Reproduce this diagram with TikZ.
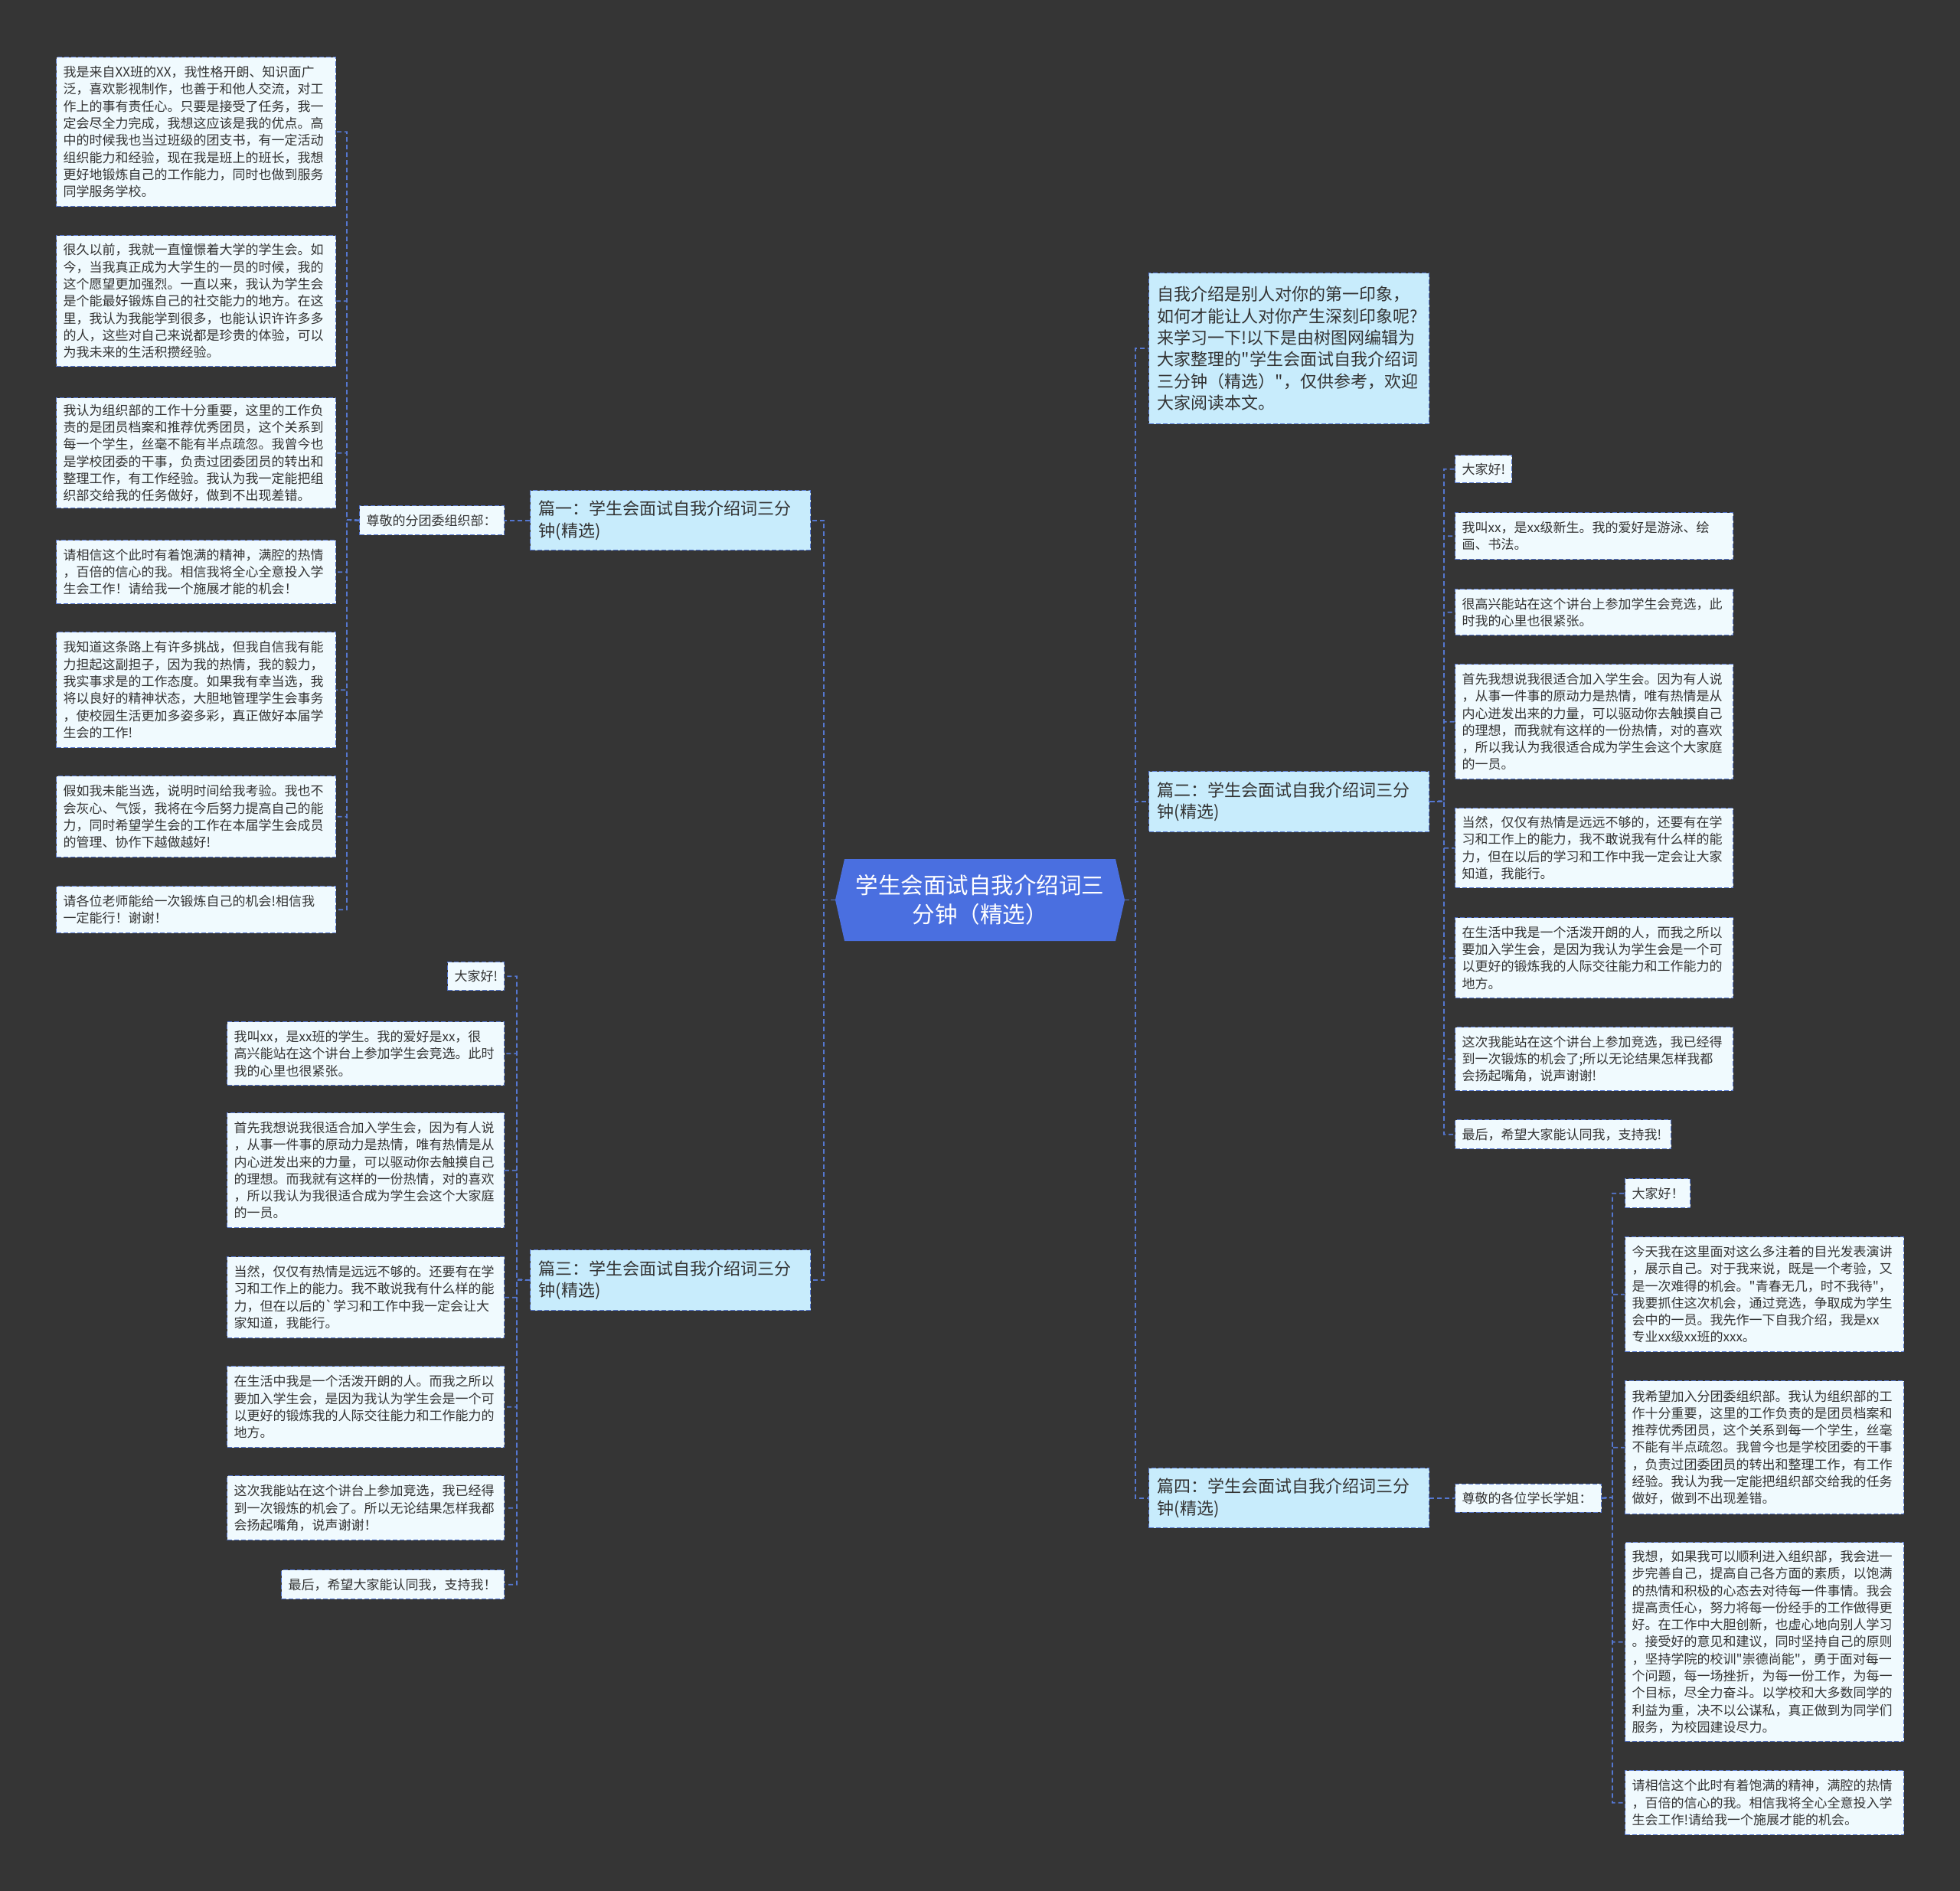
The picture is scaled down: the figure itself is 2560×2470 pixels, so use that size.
\documentclass[tikz,border=0pt]{standalone}
\usepackage{fontspec}
\newfontfamily\cjk[Ligatures=TeXOff]{Noto Sans CJK SC}
\definecolor{bgc}{HTML}{353535}
\definecolor{leaffill}{HTML}{F0FAFE}
\definecolor{midfill}{HTML}{C8ECFC}
\definecolor{linec}{HTML}{5577D0}
\definecolor{cfill}{HTML}{4A6FE0}
\definecolor{txt}{HTML}{333333}
\tikzset{
  conn/.style={draw=linec, line width=1.6pt, dash pattern=on 6pt off 4pt},
  leaf/.style={anchor=north west, draw=linec, line width=1.4pt, dash pattern=on 6pt off 3pt,
    fill=leaffill, text=txt, inner xsep=9pt, inner ysep=3pt, align=left,
    font=\cjk\fontsize{17}{22.3}\selectfont},
  mid/.style={leaf, fill=midfill, inner xsep=11pt, font=\cjk\fontsize{22}{28.3}\selectfont},
}
\begin{document}
\begin{tikzpicture}[x=1pt, y=-1pt]
\useasboundingbox (0,0) rectangle (2560,2470);
\fill[bgc] (0,0) rectangle (2560,2470);

% center
\fill[cfill] (1103,1122) -- (1457,1122) -- (1469,1175.5) -- (1457,1229) -- (1103,1229) -- (1091,1175.5) -- cycle;
\node[minimum width=378pt, minimum height=107pt, inner sep=0pt, align=center, text=white,
  font=\cjk\fontsize{29.5}{38}\selectfont] (c) at (1280,1175.5) {学生会面试自我介绍词三\\分钟（精选）};

% level 1
\node[mid, text width=344pt, minimum height=197pt] (intro) at (1500,356) {自我介绍是别人对你的第一印象，\\如何才能让人对你产生深刻印象呢?\\来学习一下!以下是由树图网编辑为\\大家整理的"学生会面试自我介绍词\\三分钟（精选）"，仅供参考，欢迎\\大家阅读本文。};
\node[mid, text width=344pt, minimum height=78pt] (p1) at (692,640) {篇一：学生会面试自我介绍词三分\\钟(精选)};
\node[mid, text width=344pt, minimum height=79pt] (p2) at (1500,1007) {篇二：学生会面试自我介绍词三分\\钟(精选)};
\node[mid, text width=344pt, minimum height=79pt] (p3) at (692,1632) {篇三：学生会面试自我介绍词三分\\钟(精选)};
\node[mid, text width=344pt, minimum height=78pt] (p4) at (1500,1917) {篇四：学生会面试自我介绍词三分\\钟(精选)};

% labels
\node[leaf, text width=171pt, minimum height=38pt] (lab1) at (469,660) {尊敬的分团委组织部：};
\node[leaf, text width=173pt, minimum height=37pt] (lab4) at (1900,1937.5) {尊敬的各位学长学姐：};

% part 1 leaves
\node[leaf, text width=347pt, minimum height=195pt] (l1) at (73,74) {我是来自XX班的XX，我性格开朗、知识面广\\泛，喜欢影视制作，也善于和他人交流，对工\\作上的事有责任心。只要是接受了任务，我一\\定会尽全力完成，我想这应该是我的优点。高\\中的时候我也当过班级的团支书，有一定活动\\组织能力和经验，现在我是班上的班长，我想\\更好地锻炼自己的工作能力，同时也做到服务\\同学服务学校。};
\node[leaf, text width=347pt, minimum height=171pt] (l2) at (73,307) {很久以前，我就一直憧憬着大学的学生会。如\\今，当我真正成为大学生的一员的时候，我的\\这个愿望更加强烈。一直以来，我认为学生会\\是个能最好锻炼自己的社交能力的地方。在这\\里，我认为我能学到很多，也能认识许许多多\\的人，这些对自己来说都是珍贵的体验，可以\\为我未来的生活积攒经验。};
\node[leaf, text width=347pt, minimum height=144pt] (l3) at (73,519) {我认为组织部的工作十分重要，这里的工作负\\责的是团员档案和推荐优秀团员，这个关系到\\每一个学生，丝毫不能有半点疏忽。我曾今也\\是学校团委的干事，负责过团委团员的转出和\\整理工作，有工作经验。我认为我一定能把组\\织部交给我的任务做好，做到不出现差错。};
\node[leaf, text width=347pt, minimum height=83pt] (l4) at (73,705) {请相信这个此时有着饱满的精神，满腔的热情\\，百倍的信心的我。相信我将全心全意投入学\\生会工作！请给我一个施展才能的机会！};
\node[leaf, text width=347pt, minimum height=151pt] (l5) at (73,825) {我知道这条路上有许多挑战，但我自信我有能\\力担起这副担子，因为我的热情，我的毅力，\\我实事求是的工作态度。如果我有幸当选，我\\将以良好的精神状态，大胆地管理学生会事务\\，使校园生活更加多姿多彩，真正做好本届学\\生会的工作!};
\node[leaf, text width=347pt, minimum height=106pt] (l6) at (73,1013) {假如我未能当选，说明时间给我考验。我也不\\会灰心、气馁，我将在今后努力提高自己的能\\力，同时希望学生会的工作在本届学生会成员\\的管理、协作下越做越好!};
\node[leaf, text width=347pt, minimum height=61pt] (l7) at (73,1157) {请各位老师能给一次锻炼自己的机会!相信我\\一定能行！谢谢！};

% part 3 leaves
\node[leaf, text width=56pt, minimum height=37pt] (t1) at (584,1256) {大家好!};
\node[leaf, text width=344pt, minimum height=83pt] (t2) at (296,1334) {我叫xx，是xx班的学生。我的爱好是xx，很\\高兴能站在这个讲台上参加学生会竞选。此时\\我的心里也很紧张。};
\node[leaf, text width=344pt, minimum height=150pt] (t3) at (296,1453) {首先我想说我很适合加入学生会，因为有人说\\，从事一件事的原动力是热情，唯有热情是从\\内心迸发出来的力量，可以驱动你去触摸自己\\的理想。而我就有这样的一份热情，对的喜欢\\，所以我认为我很适合成为学生会这个大家庭\\的一员。};
\node[leaf, text width=344pt, minimum height=106pt] (t4) at (296,1641) {当然，仅仅有热情是远远不够的。还要有在学\\习和工作上的能力。我不敢说我有什么样的能\\力，但在以后的`学习和工作中我一定会让大\\家知道，我能行。};
\node[leaf, text width=344pt, minimum height=106pt] (t5) at (296,1784) {在生活中我是一个活泼开朗的人。而我之所以\\要加入学生会，是因为我认为学生会是一个可\\以更好的锻炼我的人际交往能力和工作能力的\\地方。};
\node[leaf, text width=344pt, minimum height=84pt] (t6) at (296,1927) {这次我能站在这个讲台上参加竞选，我已经得\\到一次锻炼的机会了。所以无论结果怎样我都\\会扬起嘴角，说声谢谢！};
\node[leaf, text width=273pt, minimum height=38pt] (t7) at (367,2050) {最后，希望大家能认同我，支持我！};

% part 2 leaves
\node[leaf, text width=56pt, minimum height=36pt] (r1) at (1900,594) {大家好!};
\node[leaf, text width=345pt, minimum height=61pt] (r2) at (1900,669) {我叫xx，是xx级新生。我的爱好是游泳、绘\\画、书法。};
\node[leaf, text width=345pt, minimum height=60pt] (r3) at (1900,769) {很高兴能站在这个讲台上参加学生会竞选，此\\时我的心里也很紧张。};
\node[leaf, text width=345pt, minimum height=150pt] (r4) at (1900,867) {首先我想说我很适合加入学生会。因为有人说\\，从事一件事的原动力是热情，唯有热情是从\\内心迸发出来的力量，可以驱动你去触摸自己\\的理想，而我就有这样的一份热情，对的喜欢\\，所以我认为我很适合成为学生会这个大家庭\\的一员。};
\node[leaf, text width=345pt, minimum height=104pt] (r5) at (1900,1055) {当然，仅仅有热情是远远不够的，还要有在学\\习和工作上的能力，我不敢说我有什么样的能\\力，但在以后的学习和工作中我一定会让大家\\知道，我能行。};
\node[leaf, text width=345pt, minimum height=105pt] (r6) at (1900,1198) {在生活中我是一个活泼开朗的人，而我之所以\\要加入学生会，是因为我认为学生会是一个可\\以更好的锻炼我的人际交往能力和工作能力的\\地方。};
\node[leaf, text width=345pt, minimum height=83pt] (r7) at (1900,1341) {这次我能站在这个讲台上参加竞选，我已经得\\到一次锻炼的机会了;所以无论结果怎样我都\\会扬起嘴角，说声谢谢!};
\node[leaf, text width=264pt, minimum height=38pt] (r8) at (1900,1462) {最后，希望大家能认同我，支持我!};

% part 4 leaves
\node[leaf, text width=67pt, minimum height=38pt] (s1) at (2122,1539) {大家好！};
\node[leaf, text width=346pt, minimum height=150pt] (s2) at (2122,1615) {今天我在这里面对这么多注着的目光发表演讲\\，展示自己。对于我来说，既是一个考验，又\\是一次难得的机会。"青春无几，时不我待"，\\我要抓住这次机会，通过竞选，争取成为学生\\会中的一员。我先作一下自我介绍，我是xx\\专业xx级xx班的xxx。};
\node[leaf, text width=346pt, minimum height=174pt] (s3) at (2122,1803) {我希望加入分团委组织部。我认为组织部的工\\作十分重要，这里的工作负责的是团员档案和\\推荐优秀团员，这个关系到每一个学生，丝毫\\不能有半点疏忽。我曾今也是学校团委的干事\\，负责过团委团员的转出和整理工作，有工作\\经验。我认为我一定能把组织部交给我的任务\\做好，做到不出现差错。};
\node[leaf, text width=346pt, minimum height=260pt] (s4) at (2122,2014) {我想，如果我可以顺利进入组织部，我会进一\\步完善自己，提高自己各方面的素质，以饱满\\的热情和积极的心态去对待每一件事情。我会\\提高责任心，努力将每一份经手的工作做得更\\好。在工作中大胆创新，也虚心地向别人学习\\。接受好的意见和建议，同时坚持自己的原则\\，坚持学院的校训"崇德尚能"，勇于面对每一\\个问题，每一场挫折，为每一份工作，为每一\\个目标，尽全力奋斗。以学校和大多数同学的\\利益为重，决不以公谋私，真正做到为同学们\\服务，为校园建设尽力。};
\node[leaf, text width=346pt, minimum height=84pt] (s5) at (2122,2312) {请相信这个此时有着饱满的精神，满腔的热情\\，百倍的信心的我。相信我将全心全意投入学\\生会工作!请给我一个施展才能的机会。};

% trunk coordinates
\coordinate (cr) at (1483,1175.5);
\coordinate (cl) at (1076,1175.5);
\coordinate (v1) at (453,679);
\coordinate (v2) at (1886,1046.5);
\coordinate (v3) at (675,1671.5);
\coordinate (v4) at (2106,1956);

% connectors center
\foreach \n in {intro,p2,p4} \draw[conn] (c.east) -- (cr) |- (\n.west);
\foreach \n in {p1,p3} \draw[conn] (c.west) -- (cl) |- (\n.east);
% part 1
\draw[conn] (p1.west) -- (lab1.east);
\foreach \n in {l1,l2,l3,l4,l5,l6,l7} \draw[conn] (lab1.west) -- (v1) |- (\n.east);
% part 2
\foreach \n in {r1,r2,r3,r4,r5,r6,r7,r8} \draw[conn] (p2.east) -- (v2) |- (\n.west);
% part 3
\foreach \n in {t1,t2,t3,t4,t5,t6,t7} \draw[conn] (p3.west) -- (v3) |- (\n.east);
% part 4
\draw[conn] (p4.east) -- (lab4.west);
\foreach \n in {s1,s2,s3,s4,s5} \draw[conn] (lab4.east) -- (v4) |- (\n.west);
\end{tikzpicture}
\end{document}
